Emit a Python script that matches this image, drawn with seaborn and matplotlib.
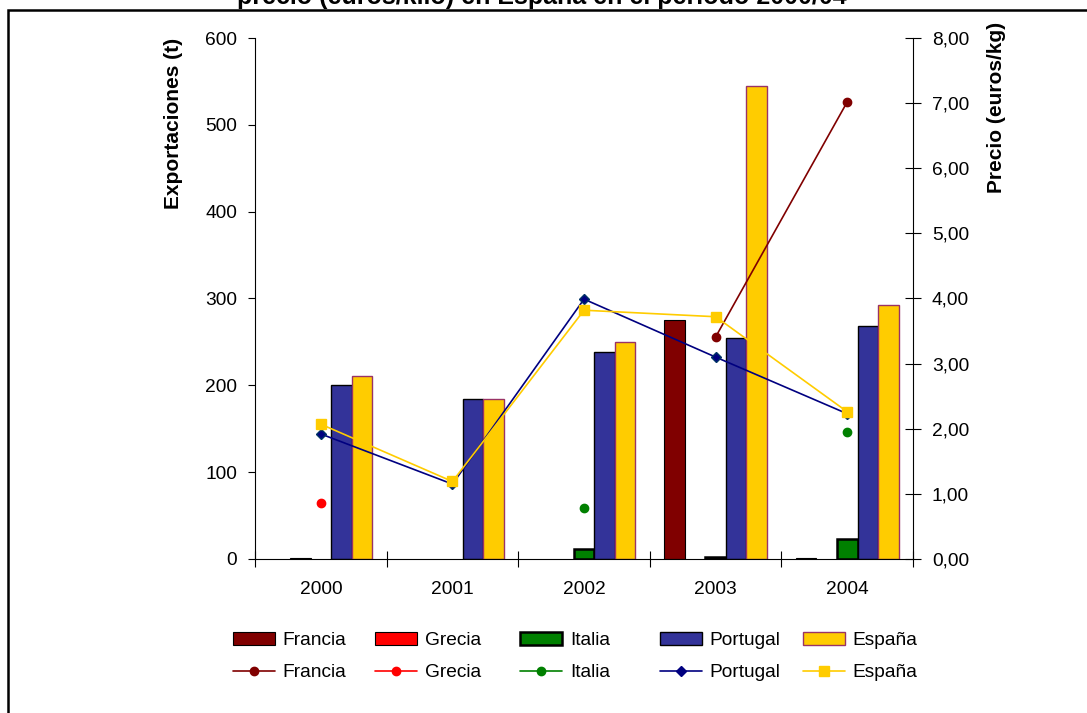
import numpy as np
import pandas as pd
import seaborn as sns
from matplotlib import pyplot as plt
from matplotlib.lines import Line2D
from matplotlib.patches import Patch, Rectangle
from matplotlib.ticker import FuncFormatter, MultipleLocator

nan = np.nan

years = ["2000", "2001", "2002", "2003", "2004"]
paises = ["Francia", "Grecia", "Italia", "Portugal", "España"]

# exportaciones (t)
exp_francia = [nan, nan, nan, 275, 1]
exp_grecia = [1, nan, nan, nan, nan]
exp_italia = [nan, nan, 12, 2, 23]
exp_portugal = [200, 184, 238, 255, 268]
exp_espana = [211, 184, 250, 545, 293]

# precio (euros/kg)
precio_francia = [nan, nan, nan, 3.41, 7.02]
precio_grecia = [0.86, nan, nan, nan, nan]
precio_italia = [nan, nan, 0.78, nan, 1.95]
precio_portugal = [1.92, 1.15, 3.99, 3.10, 2.23]
precio_espana = [2.07, 1.19, 3.82, 3.72, 2.26]

fill = {"Francia": "#800000", "Grecia": "#FF0000", "Italia": "#008000",
        "Portugal": "#333399", "España": "#FFCC00"}
edge = {"Francia": "#000000", "Grecia": "#000000", "Italia": "#000000",
        "Portugal": "#000000", "España": "#993366"}
edge_w = {"Francia": 0.8, "Grecia": 0.8, "Italia": 1.8, "Portugal": 1.0, "España": 1.0}
line_col = {"Francia": "#800000", "Grecia": "#FF0000", "Italia": "#008000",
            "Portugal": "#000080", "España": "#FFCC00"}
marker = {"Francia": "o", "Grecia": "o", "Italia": "o", "Portugal": "D", "España": "s"}
msize = {"Francia": 6, "Grecia": 6, "Italia": 6, "Portugal": 5, "España": 6.5}

FS = 13.8


def main():
    sns.set_style("white")
    plt.rcParams["font.family"] = ["Liberation Sans", "DejaVu Sans"]
    plt.rcParams["text.color"] = "black"
    plt.rcParams["axes.labelcolor"] = "black"
    plt.rcParams["xtick.color"] = "black"
    plt.rcParams["ytick.color"] = "black"

    exp = {"Francia": exp_francia, "Grecia": exp_grecia, "Italia": exp_italia,
           "Portugal": exp_portugal, "España": exp_espana}
    pre = {"Francia": precio_francia, "Grecia": precio_grecia, "Italia": precio_italia,
           "Portugal": precio_portugal, "España": precio_espana}

    rows = []
    for p in paises:
        for y, v in zip(years, exp[p]):
            rows.append({"Año": y, "País": p, "t": v})
    df = pd.DataFrame(rows).dropna()

    fig = plt.figure(figsize=(10.87, 7.13), dpi=100)
    ax = fig.add_axes([0.2346, 0.216, 0.6054, 0.7307])

    sns.barplot(df, x="Año", y="t", hue="País", order=years, hue_order=paises,
                palette=fill, width=0.78, legend=False, ax=ax, saturation=1)
    for i, c in enumerate(ax.containers):
        p = c.get_label() if c.get_label() in paises else paises[i]
        for bar in c:
            bar.set_edgecolor(edge[p])
            bar.set_linewidth(edge_w[p])

    ax.set_xlim(-0.5, 4.5)
    ax.set_ylim(0, 600)
    ax.yaxis.set_major_locator(MultipleLocator(100))
    ax.set_xlabel("")
    ax.set_ylabel("Exportaciones (t)", fontsize=15, fontweight="bold", loc="top")
    ax.yaxis.set_label_coords(-0.110, 1.0)
    ax.tick_params(axis="y", direction="out", length=5, width=0.8, labelsize=FS,
                   left=True, pad=8)
    ax.set_xticks(np.arange(-0.5, 5, 1), minor=True)
    ax.tick_params(axis="x", which="major", length=0, labelsize=FS, pad=16)
    ax.tick_params(axis="x", which="minor", direction="inout", length=12, width=0.8,
                   bottom=True)
    for s in ["top", "right"]:
        ax.spines[s].set_visible(False)
    for s in ["left", "bottom"]:
        ax.spines[s].set_color("black")
        ax.spines[s].set_linewidth(0.8)

    ax2 = ax.twinx()
    x = np.arange(len(years))
    for p in paises:
        ax2.plot(x, pre[p], color=line_col[p], lw=1.2, marker=marker[p],
                 markersize=msize[p],
                 markeredgecolor=line_col[p] if p != "Portugal" else "#003366")
    ax2.set_ylim(0, 8)
    ax2.yaxis.set_major_locator(MultipleLocator(1))
    ax2.yaxis.set_major_formatter(FuncFormatter(lambda v, pos: f"{v:.2f}".replace(".", ",")))
    ax2.tick_params(axis="y", direction="inout", length=12, width=0.8, labelsize=FS,
                    right=True, pad=7.5)
    ax2.set_ylabel("Precio (euros/kg)", fontsize=15, fontweight="bold", loc="top")
    ax2.yaxis.set_label_coords(1.113, 1.03)
    for s in ["top", "left", "bottom"]:
        ax2.spines[s].set_visible(False)
    ax2.spines["right"].set_color("black")
    ax2.spines["right"].set_linewidth(0.8)

    # leyenda: una columna por pais, barras arriba y lineas abajo
    col_x = [233, 375, 520, 660, 803]
    for p, cx in zip(paises, col_x):
        h = [Patch(facecolor=fill[p], edgecolor=edge[p], linewidth=edge_w[p]),
             Line2D([], [], color=line_col[p], lw=1.2, marker=marker[p],
                    markersize=msize[p])]
        fig.legend(h, [p, p], loc="upper left", bbox_to_anchor=(cx / 1087, 1 - 632 / 713),
                   frameon=False, fontsize=FS, handlelength=2.2, handletextpad=0.4,
                   labelspacing=0.75, borderpad=0, borderaxespad=0)

    fig.text(0.498, 1 - 4 / 713, "precio (euros/kilo) en España en el período 2000/04",
             ha="center", va="baseline", fontsize=18, fontweight="bold")
    fig.add_artist(Rectangle((8 / 1087, -0.1), 1.2, 1.1 - 10 / 713, fill=False,
                             lw=1.8, edgecolor="black", transform=fig.transFigure))

    fig.savefig("out.png", dpi=100)


if __name__ == "__main__":
    main()
